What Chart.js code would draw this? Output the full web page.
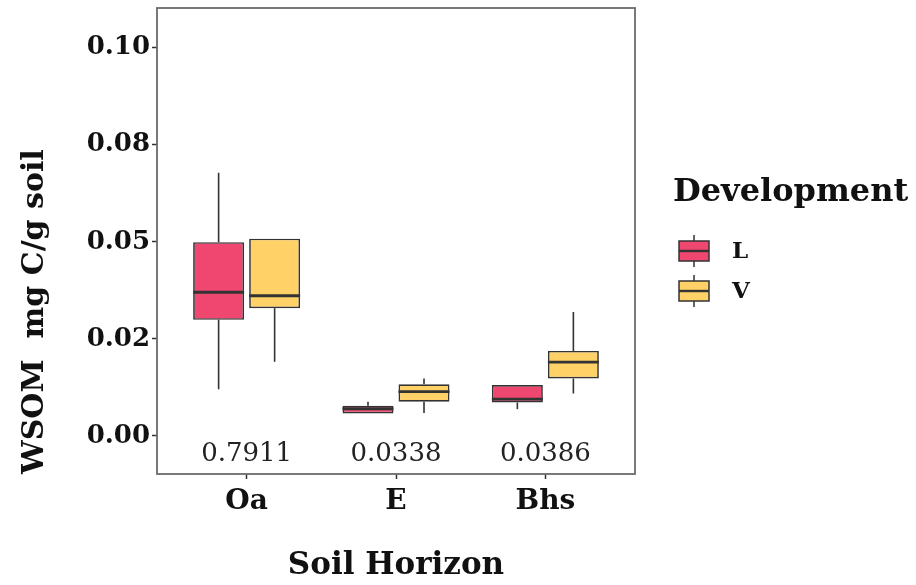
<!DOCTYPE html>
<html>
<head>
<meta charset="utf-8">
<script src="https://cdn.jsdelivr.net/npm/chart.js@4/dist/chart.umd.min.js"></script>
<style>
  body { margin: 0; background: #fff; }
  #wrap { width: 916px; height: 585px; }
</style>
</head>
<body>
<div id="wrap"><canvas id="wsom"></canvas></div>
<script>
// categories
const horizons = ['Oa', 'E', 'Bhs'];
const groups = ['L', 'V'];
const groupColors = ['#EF476F', '#FFD166'];

// box stats (mg C / g soil)
const lMin = [0.0120, 0.0058, 0.0069];
const lQ1 = [0.0299, 0.0058, 0.0086];
const lMed = [0.0370, 0.0070, 0.0095];
const lQ3 = [0.0499, 0.0078, 0.0131];
const lMax = [0.0678, 0.0088, 0.0131];

const vMin = [0.0191, 0.0059, 0.0109];
const vQ1 = [0.0329, 0.0088, 0.0148];
const vMed = [0.0361, 0.0114, 0.0190];
const vQ3 = [0.0508, 0.0133, 0.0219];
const vMax = [0.0508, 0.0148, 0.0319];

// p values printed under each horizon
const pValues = ['0.7911', '0.0338', '0.0386'];

// y ticks
const yTicks = [0, 0.025, 0.05, 0.075, 0.1];
const yTickLabels = ['0.00', '0.02', '0.05', '0.08', '0.10'];

const serif = "'DejaVu Serif', serif";
const lineCol = '#333333';

function makeBoxes(min, q1, med, q3, max) {
  return horizons.map((h, i) => ({
    x: i + 1,
    y: [q1[i], q3[i]],
    min: min[i],
    med: med[i],
    max: max[i]
  }));
}

const datasets = [
  {
    label: groups[0],
    data: makeBoxes(lMin, lQ1, lMed, lQ3, lMax),
    backgroundColor: groupColors[0],
    borderColor: lineCol,
    borderWidth: 1.7,
    borderSkipped: false,
    categoryPercentage: 0.75,
    barPercentage: 0.91
  },
  {
    label: groups[1],
    data: makeBoxes(vMin, vQ1, vMed, vQ3, vMax),
    backgroundColor: groupColors[1],
    borderColor: lineCol,
    borderWidth: 1.7,
    borderSkipped: false,
    categoryPercentage: 0.75,
    barPercentage: 0.91
  }
];

const boxPlugin = {
  id: 'boxWhiskers',
  beforeDatasetsDraw(chart) {
    const ctx = chart.ctx;
    const y = chart.scales.y;
    ctx.save();
    ctx.strokeStyle = lineCol;
    ctx.lineWidth = 1.6;
    chart.data.datasets.forEach((ds, di) => {
      chart.getDatasetMeta(di).data.forEach((bar, i) => {
        const d = ds.data[i];
        ctx.beginPath();
        ctx.moveTo(bar.x, y.getPixelForValue(d.max));
        ctx.lineTo(bar.x, y.getPixelForValue(d.y[1]));
        ctx.moveTo(bar.x, y.getPixelForValue(d.y[0]));
        ctx.lineTo(bar.x, y.getPixelForValue(d.min));
        ctx.stroke();
      });
    });
    ctx.restore();
  },
  afterDatasetsDraw(chart) {
    const ctx = chart.ctx;
    const x = chart.scales.x;
    const y = chart.scales.y;
    const area = chart.chartArea;
    ctx.save();
    // medians
    ctx.strokeStyle = lineCol;
    ctx.lineWidth = 2.8;
    chart.data.datasets.forEach((ds, di) => {
      chart.getDatasetMeta(di).data.forEach((bar, i) => {
        const py = y.getPixelForValue(ds.data[i].med);
        ctx.beginPath();
        ctx.moveTo(bar.x - bar.width / 2, py);
        ctx.lineTo(bar.x + bar.width / 2, py);
        ctx.stroke();
      });
    });
    // p values
    ctx.fillStyle = '#222';
    ctx.font = '26px ' + serif;
    ctx.textAlign = 'center';
    ctx.textBaseline = 'middle';
    pValues.forEach((p, i) => {
      ctx.fillText(p, x.getPixelForValue(i + 1), y.getPixelForValue(-0.0048));
    });
    // panel border
    ctx.strokeStyle = '#6b6b6b';
    ctx.lineWidth = 1.8;
    ctx.strokeRect(area.left, area.top, area.right - area.left, area.bottom - area.top);
    ctx.restore();
  },
  afterDraw(chart) {
    // legend
    const ctx = chart.ctx;
    const lx = 673;
    ctx.save();
    ctx.fillStyle = '#111';
    ctx.font = 'bold 32px ' + serif;
    ctx.textAlign = 'left';
    ctx.textBaseline = 'alphabetic';
    ctx.fillText('Development', lx, 201);
    chart.data.datasets.forEach((ds, i) => {
      const cy = 251 + i * 40;
      const bx = 679, bw = 30;
      ctx.strokeStyle = lineCol;
      ctx.lineWidth = 1.5;
      ctx.beginPath();
      ctx.moveTo(bx + bw / 2, cy - 16);
      ctx.lineTo(bx + bw / 2, cy + 16);
      ctx.stroke();
      ctx.fillStyle = ds.backgroundColor;
      ctx.fillRect(bx, cy - 10, bw, 20);
      ctx.strokeRect(bx, cy - 10, bw, 20);
      ctx.lineWidth = 2.4;
      ctx.beginPath();
      ctx.moveTo(bx, cy);
      ctx.lineTo(bx + bw, cy);
      ctx.stroke();
      ctx.fillStyle = '#111';
      ctx.font = 'bold 23px ' + serif;
      ctx.textBaseline = 'middle';
      ctx.fillText(ds.label, 732, cy + 1);
      ctx.textBaseline = 'alphabetic';
    });
    ctx.restore();
  }
};

new Chart(document.getElementById('wsom').getContext('2d'), {
  type: 'bar',
  data: { datasets: datasets },
  plugins: [boxPlugin],
  options: {
    responsive: true,
    maintainAspectRatio: false,
    animation: false,
    layout: { padding: { top: 8, right: 281, left: 0, bottom: 0 } },
    plugins: {
      legend: { display: false },
      tooltip: { enabled: false }
    },
    scales: {
      x: {
        type: 'linear',
        min: 0.4,
        max: 3.6,
        offset: false,
        afterBuildTicks(scale) {
          scale.ticks = horizons.map((h, i) => ({ value: i + 1 }));
        },
        afterFit(scale) {
          scale.height = 111;
          scale.paddingLeft = 0;
          scale.paddingRight = 0;
        },
        grid: {
          offset: false,
          drawOnChartArea: false,
          drawTicks: true,
          tickLength: 5,
          tickColor: lineCol,
          tickWidth: 1.5
        },
        border: { display: false },
        ticks: {
          padding: 6,
          color: '#111',
          font: { family: serif, size: 28, weight: 'bold' },
          callback: (v) => horizons[Math.round(v) - 1]
        },
        title: {
          display: true,
          text: 'Soil Horizon',
          color: '#111',
          font: { family: serif, size: 31, weight: 'bold' },
          padding: { top: 0, bottom: 0 }
        }
      },
      y: {
        min: -0.0098,
        max: 0.1102,
        afterBuildTicks(scale) {
          scale.ticks = yTicks.map((v) => ({ value: v }));
        },
        afterFit(scale) {
          scale.width = 157;
          scale.paddingTop = 0;
          scale.paddingBottom = 0;
        },
        grid: {
          drawOnChartArea: false,
          drawTicks: true,
          tickLength: 5,
          tickColor: lineCol,
          tickWidth: 1.5
        },
        border: { display: false },
        ticks: {
          padding: 2,
          color: '#111',
          font: { family: serif, size: 26, weight: 'bold' },
          callback: (v) => yTickLabels[yTicks.indexOf(v)]
        },
        title: {
          display: true,
          text: 'WSOM  mg C/g soil',
          align: 'start',
          color: '#111',
          font: { family: serif, size: 30, weight: 'bold' },
          padding: { top: 17, bottom: 0 }
        }
      }
    }
  }
});
</script>
</body>
</html>
